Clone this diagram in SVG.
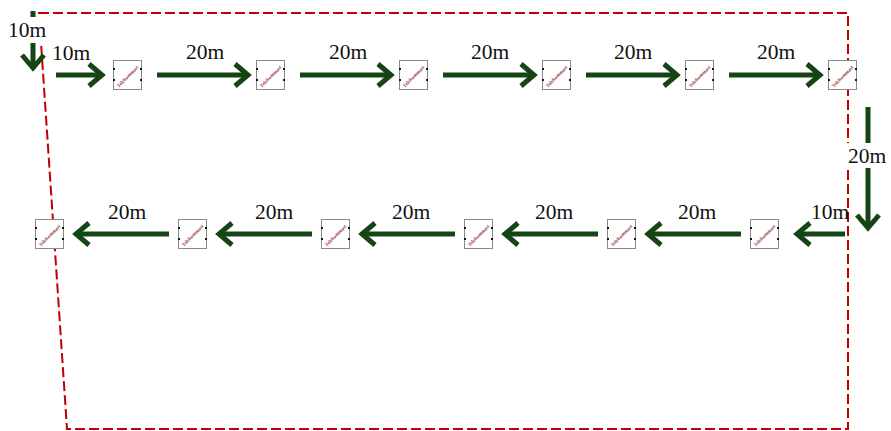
<svg xmlns="http://www.w3.org/2000/svg" width="891" height="431" viewBox="0 0 891 431">
  <style>
    .route { fill: none; stroke: #c00000; stroke-width: 2; stroke-dasharray: 10 4; }
    .arrow { fill: none; stroke: #154515; stroke-width: 5; marker-end: url(#head); }
    .seg { fill: none; stroke: #154515; stroke-width: 5; }
    .lbl { font-family: "Liberation Serif", "DejaVu Serif", serif; font-size: 21.5px; fill: #111; text-anchor: middle; }
    .bg { fill: #ffffff; }
    .box { fill: #ffffff; stroke: #8a8a8a; stroke-width: 1; }
    .tag { font-family: "Liberation Serif", "DejaVu Serif", serif; font-size: 5px; font-weight: bold; fill: #8e3d2d; text-anchor: middle; }
    .pin { fill: #111; }
  </style>
  <defs>
    <marker id="head" viewBox="0 0 28 28" refX="20" refY="14" markerWidth="28" markerHeight="28" markerUnits="userSpaceOnUse" orient="auto" overflow="visible">
      <path d="M7,3 L20,14 L7,25" fill="none" stroke="#154515" stroke-width="5"/>
    </marker>
  </defs>

  <rect width="891" height="431" fill="#ffffff"/>

  <!-- boundary route -->
  <polygon class="route" points="39,13 848,13 848,429 67,429"/>

  <g id="connectors">
    <!-- entry leg -->
    <line class="seg" x1="33" y1="11" x2="33" y2="30"/>
    <line class="arrow" x1="33" y1="30" x2="33" y2="68"/>
    <rect class="bg" x="6" y="17" width="41" height="26"/>
    <text class="lbl" x="27" y="37">10m</text>

    <!-- top row -->
    <line class="arrow" x1="56" y1="75" x2="102" y2="75"/>
    <text class="lbl" x="71" y="60">10m</text>
    <line class="arrow" x1="157" y1="75" x2="248" y2="75"/>
    <text class="lbl" x="205" y="59">20m</text>
    <line class="arrow" x1="300" y1="75" x2="391" y2="75"/>
    <text class="lbl" x="348" y="59">20m</text>
    <line class="arrow" x1="443" y1="75" x2="534" y2="75"/>
    <text class="lbl" x="490" y="59">20m</text>
    <line class="arrow" x1="586" y1="75" x2="677" y2="75"/>
    <text class="lbl" x="633" y="59">20m</text>
    <line class="arrow" x1="729" y1="75" x2="820" y2="75"/>
    <text class="lbl" x="776" y="59">20m</text>

    <!-- turn down -->
    <line class="arrow" x1="868" y1="107" x2="868" y2="228"/>
    <rect class="bg" x="843" y="143" width="48" height="25"/>
    <text class="lbl" x="867" y="163">20m</text>

    <!-- bottom row -->
    <line class="arrow" x1="845" y1="234" x2="797" y2="234"/>
    <text class="lbl" x="830" y="219">10m</text>
    <line class="arrow" x1="741" y1="234" x2="648" y2="234"/>
    <text class="lbl" x="697" y="219">20m</text>
    <line class="arrow" x1="598" y1="234" x2="505" y2="234"/>
    <text class="lbl" x="554" y="219">20m</text>
    <line class="arrow" x1="455" y1="234" x2="362" y2="234"/>
    <text class="lbl" x="411" y="219">20m</text>
    <line class="arrow" x1="312" y1="234" x2="219" y2="234"/>
    <text class="lbl" x="274" y="219">20m</text>
    <line class="arrow" x1="169" y1="234" x2="76" y2="234"/>
    <text class="lbl" x="127" y="219">20m</text>
  </g>

  <!-- masts, top row -->
  <g id="mast-t1" transform="translate(113,60)">
    <rect class="box" x="0.5" y="0.5" width="28" height="29"/>
    <rect class="pin" x="0" y="8" width="2" height="2"/><rect class="pin" x="0" y="19" width="2" height="2"/>
    <rect class="pin" x="27" y="8" width="2" height="2"/><rect class="pin" x="27" y="19" width="2" height="2"/>
    <g transform="translate(14.5,16.5) rotate(-45)"><text class="tag" y="1.7">Telekommast</text></g>
  </g>
  <g id="mast-t2" transform="translate(256,60)">
    <rect class="box" x="0.5" y="0.5" width="28" height="29"/>
    <rect class="pin" x="0" y="8" width="2" height="2"/><rect class="pin" x="0" y="19" width="2" height="2"/>
    <rect class="pin" x="27" y="8" width="2" height="2"/><rect class="pin" x="27" y="19" width="2" height="2"/>
    <g transform="translate(14.5,16.5) rotate(-45)"><text class="tag" y="1.7">Telekommast</text></g>
  </g>
  <g id="mast-t3" transform="translate(399,60)">
    <rect class="box" x="0.5" y="0.5" width="28" height="29"/>
    <rect class="pin" x="0" y="8" width="2" height="2"/><rect class="pin" x="0" y="19" width="2" height="2"/>
    <rect class="pin" x="27" y="8" width="2" height="2"/><rect class="pin" x="27" y="19" width="2" height="2"/>
    <g transform="translate(14.5,16.5) rotate(-45)"><text class="tag" y="1.7">Telekommast</text></g>
  </g>
  <g id="mast-t4" transform="translate(542,60)">
    <rect class="box" x="0.5" y="0.5" width="28" height="29"/>
    <rect class="pin" x="0" y="8" width="2" height="2"/><rect class="pin" x="0" y="19" width="2" height="2"/>
    <rect class="pin" x="27" y="8" width="2" height="2"/><rect class="pin" x="27" y="19" width="2" height="2"/>
    <g transform="translate(14.5,16.5) rotate(-45)"><text class="tag" y="1.7">Telekommast</text></g>
  </g>
  <g id="mast-t5" transform="translate(685,60)">
    <rect class="box" x="0.5" y="0.5" width="28" height="29"/>
    <rect class="pin" x="0" y="8" width="2" height="2"/><rect class="pin" x="0" y="19" width="2" height="2"/>
    <rect class="pin" x="27" y="8" width="2" height="2"/><rect class="pin" x="27" y="19" width="2" height="2"/>
    <g transform="translate(14.5,16.5) rotate(-45)"><text class="tag" y="1.7">Telekommast</text></g>
  </g>
  <g id="mast-t6" transform="translate(828,60)">
    <rect class="box" x="0.5" y="0.5" width="28" height="29"/>
    <rect class="pin" x="0" y="8" width="2" height="2"/><rect class="pin" x="0" y="19" width="2" height="2"/>
    <rect class="pin" x="27" y="8" width="2" height="2"/><rect class="pin" x="27" y="19" width="2" height="2"/>
    <g transform="translate(14.5,16.5) rotate(-45)"><text class="tag" y="1.7">Telekommast</text></g>
  </g>

  <!-- masts, bottom row -->
  <g id="mast-b1" transform="translate(750,219)">
    <rect class="box" x="0.5" y="0.5" width="28" height="29"/>
    <rect class="pin" x="0" y="8" width="2" height="2"/><rect class="pin" x="0" y="19" width="2" height="2"/>
    <rect class="pin" x="27" y="8" width="2" height="2"/><rect class="pin" x="27" y="19" width="2" height="2"/>
    <g transform="translate(14.5,16.5) rotate(-45)"><text class="tag" y="1.7">Telekommast</text></g>
  </g>
  <g id="mast-b2" transform="translate(607,219)">
    <rect class="box" x="0.5" y="0.5" width="28" height="29"/>
    <rect class="pin" x="0" y="8" width="2" height="2"/><rect class="pin" x="0" y="19" width="2" height="2"/>
    <rect class="pin" x="27" y="8" width="2" height="2"/><rect class="pin" x="27" y="19" width="2" height="2"/>
    <g transform="translate(14.5,16.5) rotate(-45)"><text class="tag" y="1.7">Telekommast</text></g>
  </g>
  <g id="mast-b3" transform="translate(464,219)">
    <rect class="box" x="0.5" y="0.5" width="28" height="29"/>
    <rect class="pin" x="0" y="8" width="2" height="2"/><rect class="pin" x="0" y="19" width="2" height="2"/>
    <rect class="pin" x="27" y="8" width="2" height="2"/><rect class="pin" x="27" y="19" width="2" height="2"/>
    <g transform="translate(14.5,16.5) rotate(-45)"><text class="tag" y="1.7">Telekommast</text></g>
  </g>
  <g id="mast-b4" transform="translate(321,219)">
    <rect class="box" x="0.5" y="0.5" width="28" height="29"/>
    <rect class="pin" x="0" y="8" width="2" height="2"/><rect class="pin" x="0" y="19" width="2" height="2"/>
    <rect class="pin" x="27" y="8" width="2" height="2"/><rect class="pin" x="27" y="19" width="2" height="2"/>
    <g transform="translate(14.5,16.5) rotate(-45)"><text class="tag" y="1.7">Telekommast</text></g>
  </g>
  <g id="mast-b5" transform="translate(178,219)">
    <rect class="box" x="0.5" y="0.5" width="28" height="29"/>
    <rect class="pin" x="0" y="8" width="2" height="2"/><rect class="pin" x="0" y="19" width="2" height="2"/>
    <rect class="pin" x="27" y="8" width="2" height="2"/><rect class="pin" x="27" y="19" width="2" height="2"/>
    <g transform="translate(14.5,16.5) rotate(-45)"><text class="tag" y="1.7">Telekommast</text></g>
  </g>
  <g id="mast-b6" transform="translate(35,219)">
    <rect class="box" x="0.5" y="0.5" width="28" height="29"/>
    <rect class="pin" x="0" y="8" width="2" height="2"/><rect class="pin" x="0" y="19" width="2" height="2"/>
    <rect class="pin" x="27" y="8" width="2" height="2"/><rect class="pin" x="27" y="19" width="2" height="2"/>
    <g transform="translate(14.5,16.5) rotate(-45)"><text class="tag" y="1.7">Telekommast</text></g>
  </g>
</svg>
